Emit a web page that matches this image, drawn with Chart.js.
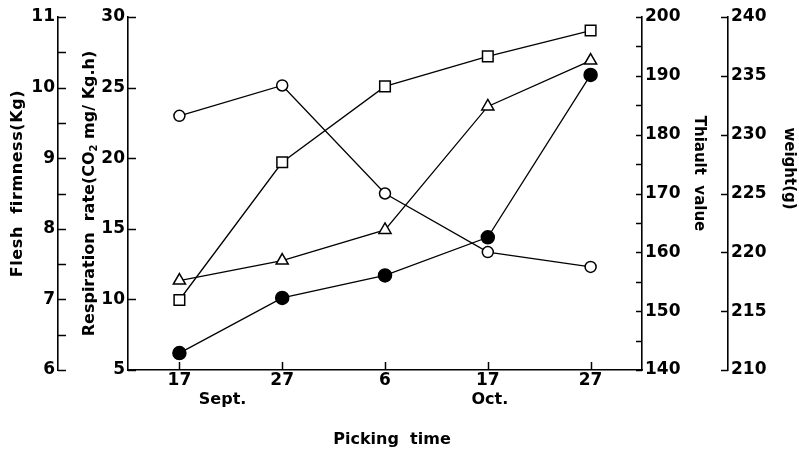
<!DOCTYPE html>
<html>
<head>
<meta charset="utf-8">
<script src="https://cdn.jsdelivr.net/npm/chart.js@4.4.1/dist/chart.umd.min.js"></script>
<style>
  html, body { margin: 0; padding: 0; background: #fff; }
  #wrap { width: 799px; height: 451px; }
</style>
</head>
<body>
<div id="wrap"><canvas id="chart" width="799" height="451"></canvas></div>
<script>
// Picking dates (day of month) and the months they fall in
const pickingDates = ['17', '27', '6', '17', '27'];
const monthNames = ['Sept.', 'Oct.'];

// Measurements per picking date
const fleshFirmness   = [9.60, 10.03, 8.50, 7.67, 7.46];        // Kg
const respirationRate = [6.2, 10.1, 11.7, 14.4, 25.9];          // CO2 mg/Kg.h
const thiaultValue    = [151.9, 175.3, 188.2, 193.3, 197.7];
const fruitWeight     = [217.6, 219.3, 221.9, 232.4, 236.3];    // g

const INK = '#000';
const tickFont = { family: 'DejaVu Sans', size: 17, weight: 'bold' };

// Fixed box widths so the four vertical axes sit side by side
function fixWidth(w) { return scale => { scale.width = w; }; }

function yAxis(position, weight, min, max, step, labelStep, width) {
  return {
    type: 'linear',
    position,
    weight,
    min, max,
    afterFit: fixWidth(width),
    grid: { display: false, drawTicks: false },
    border: { display: true, color: INK, width: 1.6 },
    ticks: {
      stepSize: step,
      padding: 3,
      color: INK,
      font: tickFont,
      autoSkip: false,
      callback: v => (Math.abs(v / labelStep - Math.round(v / labelStep)) < 1e-6 ? v : '')
    }
  };
}

// Inward tick marks, axis titles and month names
const axisDecor = {
  id: 'axisDecor',
  afterDraw(chart) {
    const ctx = chart.ctx;
    const s = chart.scales;
    ctx.save();
    ctx.strokeStyle = INK;
    ctx.fillStyle = INK;
    ctx.lineWidth = 1.5;

    const inward = { yFirm: 8, yResp: 8, yThiault: 6, yWeight: 7 };
    Object.keys(inward).forEach(id => {
      const sc = s[id];
      const len = inward[id];
      const x0 = sc.position === 'left' ? sc.right : sc.left;
      const dir = sc.position === 'left' ? 1 : -1;
      sc.ticks.forEach(t => {
        const y = Math.round(sc.getPixelForValue(t.value)) + 0.5;
        ctx.beginPath();
        ctx.moveTo(x0, y);
        ctx.lineTo(x0 + dir * len, y);
        ctx.stroke();
      });
    });

    const xs = s.x;
    pickingDates.forEach((d, i) => {
      const x = Math.round(xs.getPixelForValue(i)) + 0.5;
      ctx.beginPath();
      ctx.moveTo(x, xs.top);
      ctx.lineTo(x, xs.top - 8);
      ctx.stroke();
    });

    // month names under the day numbers
    ctx.font = 'bold 16px "DejaVu Sans"';
    ctx.textAlign = 'center';
    ctx.textBaseline = 'middle';
    const monthAt = [0.42, 3.02];
    monthNames.forEach((m, i) => {
      ctx.fillText(m, xs.getPixelForValue(monthAt[i]), xs.top + 30);
    });

    // x axis title
    ctx.font = 'bold 16px "DejaVu Sans"';
    ctx.fillText('Picking  time', (xs.left + xs.right) / 2 + 7, xs.top + 70);

    const area = chart.chartArea;
    const midY = (area.top + area.bottom) / 2;

    function vertical(runs, cx, cy, angle, spacing) {
      ctx.save();
      ctx.letterSpacing = (spacing || 0) + 'px';
      let total = 0;
      runs.forEach(r => { ctx.font = r.font; r.w = ctx.measureText(r.text).width; total += r.w; });
      ctx.translate(cx, cy);
      ctx.rotate(angle);
      ctx.textAlign = 'left';
      ctx.textBaseline = 'middle';
      let x = -total / 2;
      runs.forEach(r => {
        ctx.font = r.font;
        ctx.fillText(r.text, x, r.dy || 0);
        x += r.w;
      });
      ctx.restore();
    }

    const leftFont = 'bold 16px "DejaVu Sans"';
    const subFont = 'bold 10px "DejaVu Sans"';
    const rightFont = 'bold 15px "DejaVu Sans"';

    vertical([{ text: 'Flesh  firmness(Kg)', font: leftFont }],
      s.yFirm.left + 18, midY - 10, -Math.PI / 2, 0.6);
    vertical([
      { text: 'Respiration  rate(CO', font: leftFont },
      { text: '2', font: subFont, dy: 4 },
      { text: ' mg/ Kg.h)', font: leftFont }
    ], s.yResp.left + 32, midY, -Math.PI / 2);
    vertical([{ text: 'Thiault  value', font: rightFont }],
      s.yThiault.left + 57, midY - 20, Math.PI / 2);
    vertical([{ text: 'weight(g)', font: rightFont }],
      s.yWeight.left + 61, midY - 25, Math.PI / 2);

    ctx.restore();
  }
};

function series(label, data, axis, style, radius, fill) {
  return {
    label,
    data,
    yAxisID: axis,
    borderColor: INK,
    borderWidth: 1.3,
    backgroundColor: fill,
    pointStyle: style,
    pointRadius: radius,
    pointHoverRadius: radius,
    pointBorderWidth: 1.5,
    pointBorderColor: INK,
    pointBackgroundColor: fill,
    tension: 0,
    fill: false
  };
}

new Chart(document.getElementById('chart'), {
  type: 'line',
  data: {
    labels: pickingDates,
    datasets: [
      series('Flesh firmness', fleshFirmness, 'yFirm', 'circle', 5.5, '#fff'),
      series('Thiault value', thiaultValue, 'yThiault', 'rect', 7.5, '#fff'),
      series('Weight', fruitWeight, 'yWeight', 'triangle', 7, '#fff'),
      series('Respiration rate', respirationRate, 'yResp', 'circle', 6.5, INK)
    ]
  },
  options: {
    responsive: false,
    animation: false,
    layout: { padding: { top: 17, right: 0, bottom: 0, left: 0 } },
    plugins: {
      legend: { display: false },
      tooltip: { enabled: false },
      title: { display: false }
    },
    scales: {
      x: {
        type: 'category',
        offset: true,
        afterFit: scale => { scale.height = 81; },
        grid: { display: false, drawTicks: false },
        border: { display: true, color: INK, width: 1.6 },
        ticks: { color: INK, font: tickFont, padding: 0, maxRotation: 0 }
      },
      yFirm: yAxis('left', 2, 6, 11, 0.5, 1, 58),
      yResp: yAxis('left', 1, 5, 30, 5, 5, 70),
      yThiault: yAxis('right', 1, 140, 200, 5, 10, 86),
      yWeight: yAxis('right', 2, 210, 240, 5, 5, 71)
    }
  },
  plugins: [axisDecor]
});
</script>
</body>
</html>
